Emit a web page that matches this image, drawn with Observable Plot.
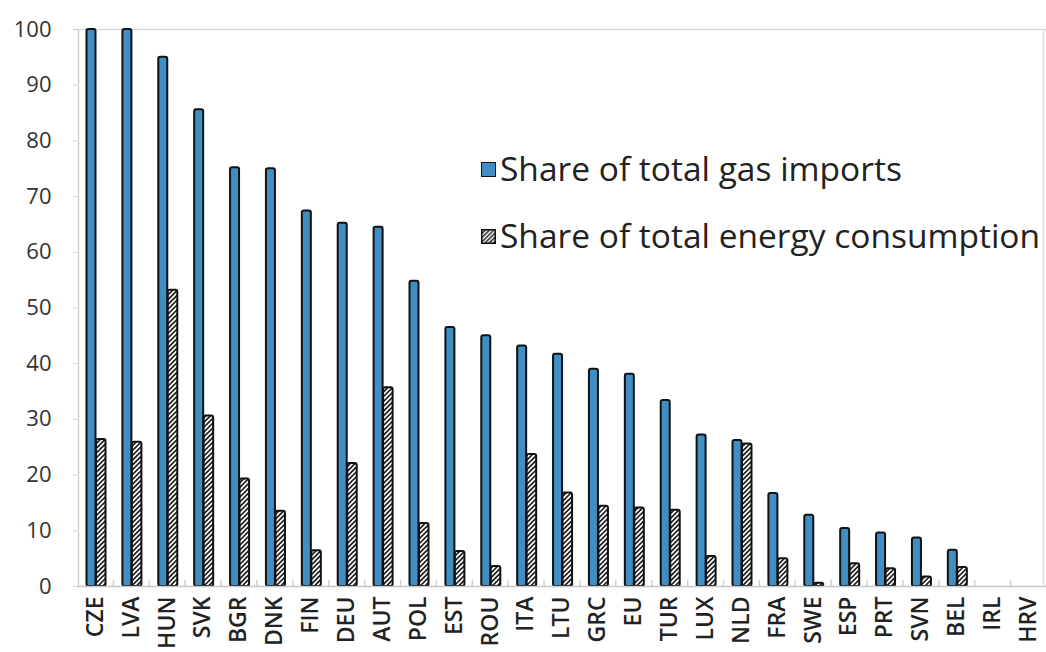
<!DOCTYPE html>
<html>
<head>
<meta charset="utf-8">
<script src="https://cdn.jsdelivr.net/npm/d3@7"></script>
<script src="https://cdn.jsdelivr.net/npm/@observablehq/plot@0.6"></script>
<style>
  html, body { margin: 0; padding: 0; background: #fff; }
  #wrap { position: relative; width: 1046px; height: 652px; font-family: "Open Sans", sans-serif; overflow: hidden; }
  #legend { position: absolute; left: 481px; top: 146px; font-size: 33.5px; color: #222; line-height: 1; }
  .item { display: flex; align-items: center; height: 46px; margin-bottom: 21px; white-space: nowrap; }
  .sw { width: 15px; height: 15px; border: 1.5px solid #111; margin-right: 4px; box-sizing: border-box; }
</style>
</head>
<body>
<div id="wrap">
  <div id="chart"></div>
  <div id="legend">
    <div class="item"><div class="sw" style="background:#3f8ec4"></div><span>Share of total gas imports</span></div>
    <div class="item"><svg width="15" height="15" style="margin-right:4px"><defs><pattern id="hatchL" patternUnits="userSpaceOnUse" width="3" height="3" patternTransform="rotate(45)"><rect width="3" height="3" fill="#fff"/><rect width="1.5" height="3" fill="#222"/></pattern></defs><rect x="0.75" y="0.75" width="13.5" height="13.5" fill="url(#hatchL)" stroke="#111" stroke-width="1.5"/></svg><span>Share of total energy consumption</span></div>
  </div>
</div>
<script>
const countries = ["CZE","LVA","HUN","SVK","BGR","DNK","FIN","DEU","AUT","POL","EST","ROU","ITA","LTU","GRC","EU","TUR","LUX","NLD","FRA","SWE","ESP","PRT","SVN","BEL","IRL","HRV"];
const gasImports = [100,100,95,85.6,75.2,75,67.4,65.2,64.5,54.8,46.5,45,43.2,41.7,39,38.1,33.4,27.2,26.2,16.7,12.8,10.4,9.6,8.7,6.5,0,0];
const energyConsumption = [26.4,25.9,53.2,30.6,19.3,13.5,6.4,22.1,35.7,11.3,6.3,3.6,23.7,16.8,14.4,14.1,13.7,5.4,25.6,5.0,0.6,4.1,3.2,1.7,3.4,0,0];
const yTicks = [0,10,20,30,40,50,60,70,80,90,100];

const W = 1046, H = 652, mL = 77, mR = 0, mT = 29, mB = 66;
const band = (W - mL - mR) / countries.length;

const gasData = countries.map((c, i) => ({country: c, value: gasImports[i]})).filter(d => d.value > 0);
const enData = countries.map((c, i) => ({country: c, value: energyConsumption[i]})).filter(d => d.value > 0);

const chart = Plot.plot({
  width: W, height: H,
  marginLeft: mL, marginRight: mR, marginTop: mT, marginBottom: mB,
  style: {fontFamily: "'Open Sans', sans-serif", color: "#333", background: "#fff", overflow: "visible"},
  x: {domain: countries, padding: 0, round: false, label: null},
  y: {domain: [0, 100], label: null},
  marks: [
    Plot.ruleY([100], {stroke: "#d9d9d9", strokeWidth: 1.5}),
    Plot.ruleX([countries[countries.length - 1]], {dx: band / 2 - 3, stroke: "#e0e0e0", strokeWidth: 1.5}),
    Plot.ruleX(countries.slice(1), {x: d => d, dx: -band / 2, y1: 0, y2: 1.1, stroke: "#d0d0d0", strokeWidth: 1.5}),
    Plot.barY(gasData, {x: "country", y: "value", fill: "#3f8ec4", stroke: "#111", strokeWidth: 2,
      insetLeft: 9.5, insetRight: band - 18.5, rx: 2}),
    Plot.barY(enData, {x: "country", y: "value", fill: "url(#hatch)", stroke: "#111", strokeWidth: 2,
      insetLeft: 19, insetRight: band - 28.5, rx: 2}),
    Plot.ruleY([0], {stroke: "#c8c8c8", strokeWidth: 1.5}),
    Plot.axisY({ticks: yTicks, tickSize: 4, tickPadding: 22, fontSize: 22, stroke: "#cfcfcf", fill: "#333"}),
    Plot.ruleX([countries[0]], {dx: -band / 2 + 1, stroke: "#d0d0d0", strokeWidth: 1.5}),
    Plot.axisX({tickSize: 0, tickRotate: -90, tickPadding: 10, fontSize: 23, fill: "#222", fontWeight: 600})
  ]
});

const ns = "http://www.w3.org/2000/svg";
const defs = document.createElementNS(ns, "defs");
defs.innerHTML = '<pattern id="hatch" patternUnits="userSpaceOnUse" width="3.4" height="3.4" patternTransform="rotate(45)"><rect width="3.4" height="3.4" fill="#fff"/><rect width="1.7" height="3.4" fill="#222"/></pattern>';
chart.insertBefore(defs, chart.firstChild);
document.getElementById("chart").appendChild(chart);
</script>
</body>
</html>
